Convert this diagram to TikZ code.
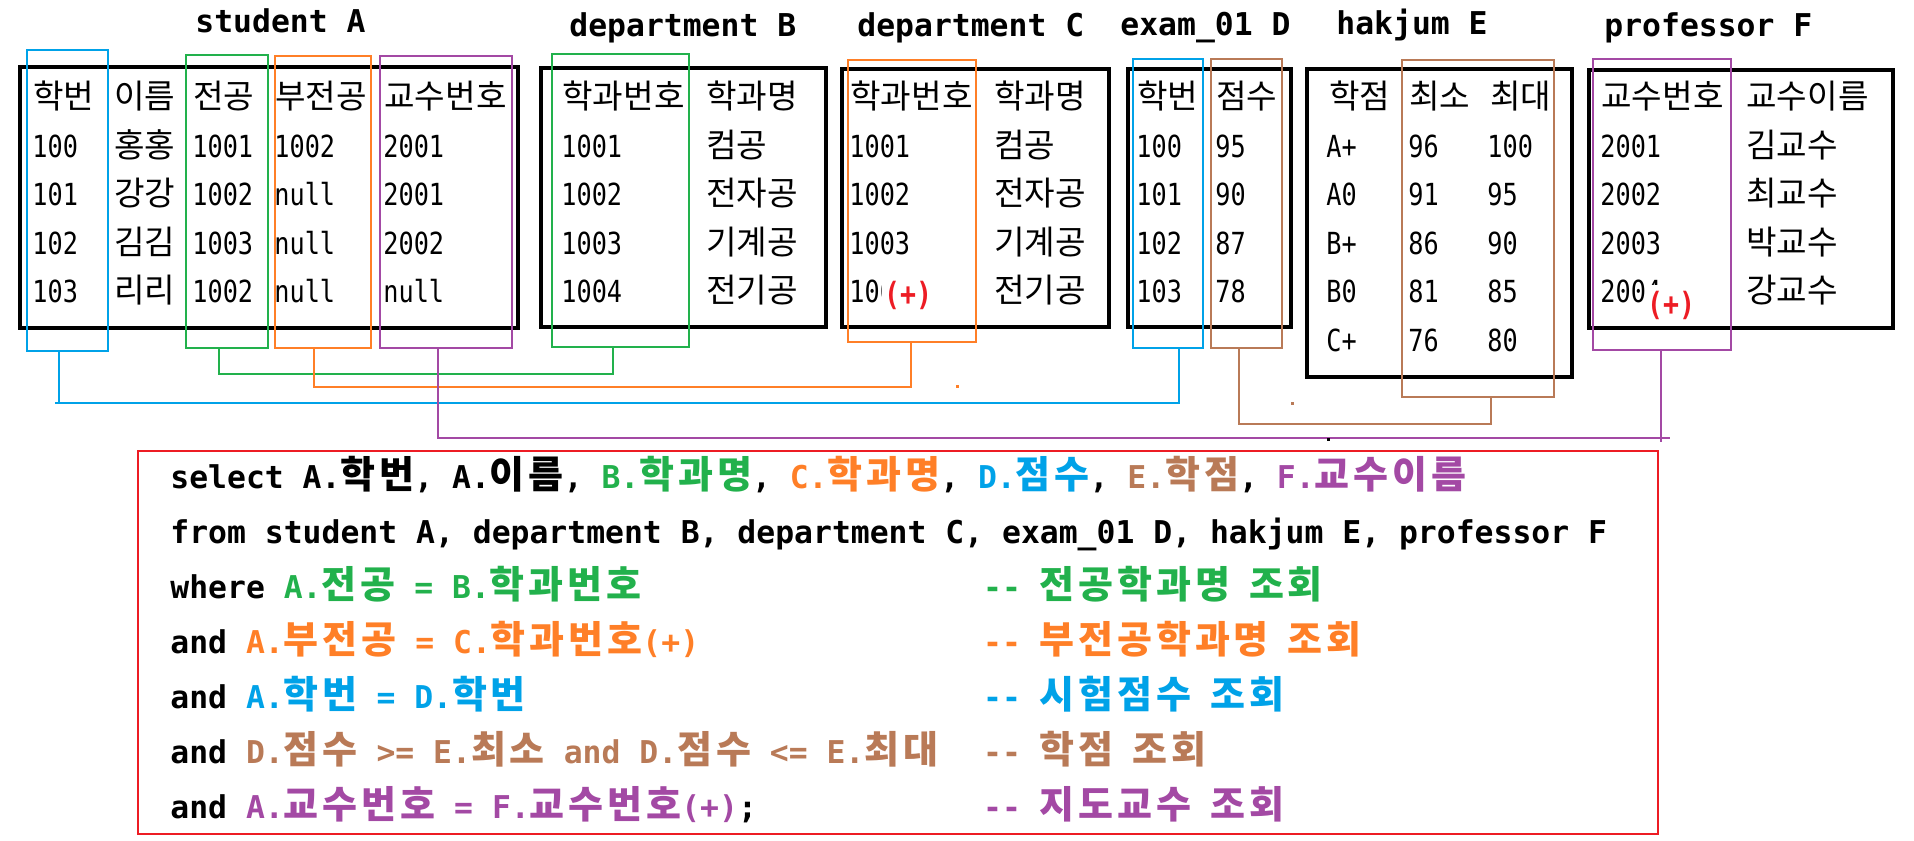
\documentclass[tikz,border=0pt]{standalone}
\usepackage{fontspec}
\usetikzlibrary{fit}
\newfontfamily\krf{Noto Sans CJK KR}
\newfontfamily\krs[LetterSpace=10.2]{Noto Sans CJK KR}
\newfontfamily\monf[FakeStretch=0.83]{DejaVu Sans Mono}
\newfontfamily\sqlf{DejaVu Sans Mono}
\definecolor{bC}{RGB}{0,162,232}
\definecolor{gC}{RGB}{34,177,76}
\definecolor{oC}{RGB}{255,127,39}
\definecolor{pC}{RGB}{163,73,164}
\definecolor{brC}{RGB}{185,122,87}
\definecolor{rC}{RGB}{237,28,36}
\newcommand\K[1]{{\krs\bfseries\fontsize{19}{19}\selectfont #1}}
\newcommand\dd{-\kern0pt-}
\tikzset{
  cell/.style={anchor=base west, inner sep=0pt, font=\monf\fontsize{15.2}{15.2}\selectfont},
  kcell/.style={anchor=base west, inner sep=0pt, font=\krf\fontsize{16.6}{16.6}\selectfont},
  ttl/.style={anchor=base west, inner sep=0pt, font=\sqlf\bfseries\fontsize{15.7}{15.7}\selectfont},
  sqll/.style={anchor=base west, inner sep=0pt, font=\sqlf\bfseries\fontsize{15.7}{15.7}\selectfont},
  tbl/.style={draw=black, line width=1.7pt, inner sep=0pt},
  colbox/.style={draw=#1, line width=1.4pt, inner sep=0pt},
  conn/.style={draw=#1, line width=1.3pt},
  plusmark/.style={fill=white, inner xsep=1pt, inner ysep=3pt, text=rC, font=\monf\bfseries\fontsize{16}{16}\selectfont},
}
\begin{document}
\begin{tikzpicture}[x=0.5pt, y=-0.5pt]
\useasboundingbox (0,0) rectangle (1914,840);
\fill[white] (0,0) rectangle (1914,840);

% titles
\node[ttl] (tA) at (195,33) {student A};
\node[ttl] (tB) at (569,37) {department B};
\node[ttl] (tC) at (857,37) {department C};
\node[ttl] (tD) at (1120,36) {exam\_01 D};
\node[ttl] (tE) at (1336,35) {hakjum E};
\node[ttl] (tF) at (1604,37) {professor F};

% table frames
\node[tbl, fit={(20,67)(518,328)}] (boxA) {};
\node[tbl, fit={(541,68)(826,327)}] (boxB) {};
\node[tbl, fit={(842,69)(1109,327)}] (boxC) {};
\node[tbl, fit={(1128,69)(1291,327)}] (boxD) {};
\node[tbl, fit={(1307,69)(1572,377)}] (boxE) {};
\node[tbl, fit={(1589,70)(1893,328)}] (boxF) {};

% table A
\node[kcell] (Ah1) at (33,109) {학번};
\node[kcell] (Ah2) at (114,109) {이름};
\node[kcell] (Ah3) at (193,109) {전공};
\node[kcell] (Ah4) at (275,109) {부전공};
\node[kcell] (Ah5) at (384,109) {교수번호};
\foreach \y/\a/\b/\c/\d/\e [count=\i] in {157/100/홍홍/1001/1002/2001, 205/101/강강/1002/null/2001, 254/102/김김/1003/null/2002, 302/103/리리/1002/null/null}{
  \node[cell] (Aa\i) at (32,\y) {\a};
  \node[kcell] (Ab\i) at (114,\y) {\b};
  \node[cell] (Ac\i) at (192,\y) {\c};
  \node[cell] (Ad\i) at (274,\y) {\d};
  \node[cell] (Ae\i) at (383,\y) {\e};
}
% table B
\node[kcell] (Bh1) at (562,109) {학과번호};
\node[kcell] (Bh2) at (706,109) {학과명};
\foreach \y/\a/\b [count=\i] in {157/1001/컴공, 205/1002/전자공, 254/1003/기계공, 302/1004/전기공}{
  \node[cell] (Ba\i) at (561,\y) {\a};
  \node[kcell] (Bb\i) at (706,\y) {\b};
}
% table C
\node[kcell] (Ch1) at (850,109) {학과번호};
\node[kcell] (Ch2) at (994,109) {학과명};
\foreach \y/\a/\b [count=\i] in {157/1001/컴공, 205/1002/전자공, 254/1003/기계공, 302/1004/전기공}{
  \node[cell] (Ca\i) at (849,\y) {\a};
  \node[kcell] (Cb\i) at (994,\y) {\b};
}
% table D
\node[kcell] (Dh1) at (1137,109) {학번};
\node[kcell] (Dh2) at (1216,109) {점수};
\foreach \y/\a/\b [count=\i] in {157/100/95, 205/101/90, 254/102/87, 302/103/78}{
  \node[cell] (Da\i) at (1136,\y) {\a};
  \node[cell] (Db\i) at (1215,\y) {\b};
}
% table E
\node[kcell] (Eh1) at (1329,109) {학점};
\node[kcell] (Eh2) at (1409,109) {최소};
\node[kcell] (Eh3) at (1490,109) {최대};
\foreach \y/\a/\b/\c [count=\i] in {157/A+/96/100, 205/A0/91/95, 254/B+/86/90, 302/B0/81/85, 351/C+/76/80}{
  \node[cell] (Ea\i) at (1326,\y) {\a};
  \node[cell] (Eb\i) at (1408,\y) {\b};
  \node[cell] (Ec\i) at (1487,\y) {\c};
}
% table F
\node[kcell] (Fh1) at (1601,109) {교수번호};
\node[kcell] (Fh2) at (1746,109) {교수이름};
\foreach \y/\a/\b [count=\i] in {157/2001/김교수, 205/2002/최교수, 254/2003/박교수, 302/2004/강교수}{
  \node[cell] (Fa\i) at (1600,\y) {\a};
  \node[kcell] (Fb\i) at (1746,\y) {\b};
}

% (+) marks
\node[plusmark] (plusC) at (908,295) {(+)};
\node[plusmark] (plusF) at (1671,305) {(+)};

% coloured column boxes
\node[colbox=bC, fit={(27,50)(108,351)}] (Ablue) {};
\node[colbox=gC, fit={(186,55)(268,348)}] (Agreen) {};
\node[colbox=oC, fit={(275,56)(371,348)}] (Aor) {};
\node[colbox=pC, fit={(380,56)(512,348)}] (Apur) {};
\node[colbox=gC, fit={(552,54)(689,347)}] (Bgreen) {};
\node[colbox=oC, fit={(848,60)(976,342)}] (Cor) {};
\node[colbox=bC, fit={(1133,59)(1203,348)}] (Dblue) {};
\node[colbox=brC, fit={(1211,59)(1282,348)}] (Dbr) {};
\node[colbox=brC, fit={(1402,60)(1554,397)}] (Ebr) {};
\node[colbox=pC, fit={(1593,59)(1731,350)}] (Fpur) {};

% connectors
\coordinate (g1) at (219,374); \coordinate (g2) at (613,374);
\draw[conn=gC] (Agreen.south -| g1) -- (g1) -- (g2) -- (Bgreen.south -| g2);
\coordinate (o1) at (314,387); \coordinate (o2) at (911,387);
\draw[conn=oC] (Aor.south -| o1) -- (o1) -- (o2) -- (Cor.south -| o2);
\coordinate (b0) at (55,403); \coordinate (b1) at (59,403); \coordinate (b2) at (1179,403);
\draw[conn=bC] (Ablue.south -| b1) -- (b1);
\draw[conn=bC] (b0) -- (b2) -- (Dblue.south -| b2);
\coordinate (p1) at (438,438); \coordinate (p2) at (1661,438); \coordinate (p3) at (1670,438); \coordinate (p4) at (1661,442);
\draw[conn=pC] (Apur.south -| p1) -- (p1) -- (p3);
\draw[conn=pC] (Fpur.south -| p2) -- (p4);
\coordinate (r1) at (1239,424); \coordinate (r2) at (1491,424);
\draw[conn=brC] (Dbr.south -| r1) -- (r1) -- (r2) -- (Ebr.south -| r2);

% specks
\fill[oC] (955.5,384.5) rectangle ++(3,3);
\fill[brC] (1290.5,401.5) rectangle ++(3,3);
\fill[black] (1326.5,438) rectangle ++(3,3);

% SQL box
\node[draw=rC, line width=1.3pt, inner sep=0pt, fit={(138,451)(1658,834)}] (sql) {};
\node[sqll] (s1) at (170,488) {select A.\K{학번}, A.\K{이름}, \textcolor{gC}{B.\K{학과명}}, \textcolor{oC}{C.\K{학과명}}, \textcolor{bC}{D.\K{점수}}, \textcolor{brC}{E.\K{학점}}, \textcolor{pC}{F.\K{교수이름}}};
\node[sqll] (s2) at (170,543) {from student A, department B, department C, exam\_01 D, hakjum E, professor F};
\node[sqll] (s3) at (170,598) {where \textcolor{gC}{A.\K{전공} = B.\K{학과번호}}};
\node[sqll] (s4) at (170,653) {and \textcolor{oC}{A.\K{부전공} = C.\K{학과번호}(+)}};
\node[sqll] (s5) at (170,708) {and \textcolor{bC}{A.\K{학번} = D.\K{학번}}};
\node[sqll] (s6) at (170,763) {and \textcolor{brC}{D.\K{점수} >= E.\K{최소} and D.\K{점수} <= E.\K{최대}}};
\node[sqll] (s7) at (170,818) {and \textcolor{pC}{A.\K{교수번호} = F.\K{교수번호}(+)};};
\node[sqll, text=gC] (c3) at (982.7,598) {\dd{} \K{전공학과명} \K{조회}};
\node[sqll, text=oC] (c4) at (982.7,653) {\dd{} \K{부전공학과명} \K{조회}};
\node[sqll, text=bC] (c5) at (982.7,708) {\dd{} \K{시험점수} \K{조회}};
\node[sqll, text=brC] (c6) at (982.7,763) {\dd{} \K{학점} \K{조회}};
\node[sqll, text=pC] (c7) at (982.7,818) {\dd{} \K{지도교수} \K{조회}};
\end{tikzpicture}
\end{document}
